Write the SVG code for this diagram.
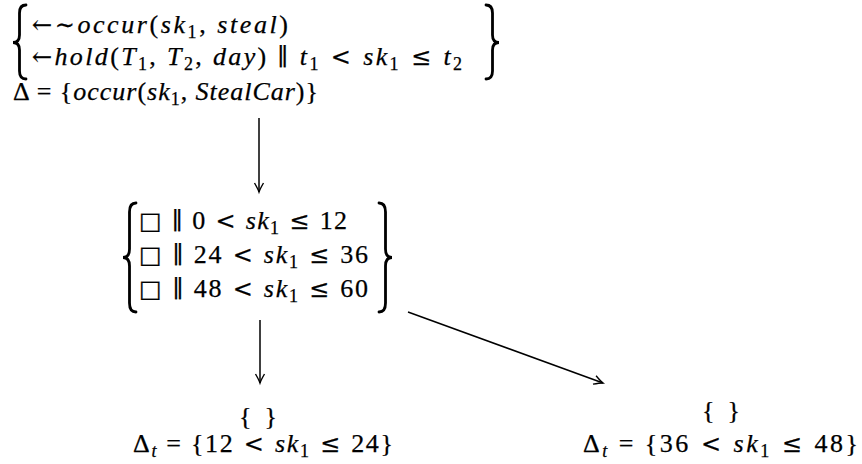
<svg xmlns="http://www.w3.org/2000/svg" width="862" height="464" viewBox="0 0 862 464">
<style>
.t { font-family: "Liberation Serif","DejaVu Serif",serif; font-size: 26px; fill: #000; stroke: #000; stroke-width: 0.25; }
.i { font-style: italic; }
.s { font-size: 18px; }
.y { font-family: "DejaVu Serif",serif; font-size: 24px; }
.br { fill: none; stroke: #000; stroke-width: 2.8; stroke-linecap: round; }
.edge { fill: none; stroke: #000; stroke-width: 1.5; }
</style>
<defs>
<marker id="ah" markerUnits="userSpaceOnUse" markerWidth="14" markerHeight="12" viewBox="-10 -6 12 12" refX="0" refY="0" orient="auto">
<path d="M-9,-4.5 Q-3,-1 0,0 Q-3,1 -9,4.5" fill="none" stroke="#000" stroke-width="1.4"/>
</marker>
</defs>
<rect width="862" height="464" fill="#fff"/>

<g id="n_top">
<path class="br" d="M26,5 Q19.5,5 19.5,13 L19.5,35 Q19.5,42.5 13,42.5 Q19.5,42.5 19.5,50 L19.5,71 Q19.5,79 26,79"/>
<path class="br" d="M486,5 Q492.5,5 492.5,13 L492.5,35 Q492.5,42.5 499,42.5 Q492.5,42.5 492.5,50 L492.5,71 Q492.5,79 486,79"/>
<text class="t" x="32" y="33" textLength="256" lengthAdjust="spacing"><tspan class="y">←∼</tspan><tspan class="i">occur</tspan>(<tspan class="i">sk</tspan><tspan class="s" dy="5">1</tspan><tspan dy="-5">, </tspan><tspan class="i">steal</tspan>)</text>
<text class="t" x="32" y="65" textLength="430" lengthAdjust="spacing"><tspan class="y">←</tspan><tspan class="i">hold</tspan>(<tspan class="i">T</tspan><tspan class="s" dy="5">1</tspan><tspan dy="-5">, </tspan><tspan class="i">T</tspan><tspan class="s" dy="5">2</tspan><tspan dy="-5">, </tspan><tspan class="i">day</tspan>) <tspan class="y">∥</tspan> <tspan class="i">t</tspan><tspan class="s" dy="5">1</tspan><tspan dy="-5" class="y"> &lt; </tspan><tspan class="i">sk</tspan><tspan class="s" dy="5">1</tspan><tspan dy="-5" class="y"> ≤ </tspan><tspan class="i">t</tspan><tspan class="s" dy="5">2</tspan></text>
<text class="t" x="13" y="100" textLength="305" lengthAdjust="spacing">Δ = {<tspan class="i">occur</tspan>(<tspan class="i">sk</tspan><tspan class="s" dy="5">1</tspan><tspan dy="-5">, </tspan><tspan class="i">StealCar</tspan>)}</text>
</g>

<g id="n_mid">
<path class="br" d="M136,203 Q129.5,203 129.5,212 L129.5,249 Q129.5,257.5 123,257.5 Q129.5,257.5 129.5,266 L129.5,303 Q129.5,312 136,312"/>
<path class="br" d="M379,203 Q385.5,203 385.5,212 L385.5,249 Q385.5,257.5 392,257.5 Q385.5,257.5 385.5,266 L385.5,303 Q385.5,312 379,312"/>
<text class="t" x="139" y="229" textLength="208" lengthAdjust="spacing"><tspan class="y">□ ∥</tspan> 0<tspan class="y"> &lt; </tspan><tspan class="i">sk</tspan><tspan class="s" dy="5">1</tspan><tspan dy="-5" class="y"> ≤ </tspan><tspan>12</tspan></text>
<text class="t" x="139" y="263" textLength="229" lengthAdjust="spacing"><tspan class="y">□ ∥</tspan> 24<tspan class="y"> &lt; </tspan><tspan class="i">sk</tspan><tspan class="s" dy="5">1</tspan><tspan dy="-5" class="y"> ≤ </tspan><tspan>36</tspan></text>
<text class="t" x="139" y="297" textLength="229" lengthAdjust="spacing"><tspan class="y">□ ∥</tspan> 48<tspan class="y"> &lt; </tspan><tspan class="i">sk</tspan><tspan class="s" dy="5">1</tspan><tspan dy="-5" class="y"> ≤ </tspan><tspan>60</tspan></text>
</g>

<g id="n_left">
<text class="t" x="258" y="425" text-anchor="middle" textLength="38" lengthAdjust="spacing">{ }</text>
<text class="t" x="133" y="452" textLength="260" lengthAdjust="spacing">Δ<tspan class="s i" dy="5">t</tspan><tspan dy="-5"> = {12</tspan><tspan class="y"> &lt; </tspan><tspan class="i">sk</tspan><tspan class="s" dy="5">1</tspan><tspan dy="-5" class="y"> ≤ </tspan><tspan>24}</tspan></text>
</g>

<g id="n_right">
<text class="t" x="721" y="419" text-anchor="middle" textLength="38" lengthAdjust="spacing">{ }</text>
<text class="t" x="583" y="452" textLength="275" lengthAdjust="spacing">Δ<tspan class="s i" dy="5">t</tspan><tspan dy="-5"> = {36</tspan><tspan class="y"> &lt; </tspan><tspan class="i">sk</tspan><tspan class="s" dy="5">1</tspan><tspan dy="-5" class="y"> ≤ </tspan><tspan>48}</tspan></text>
</g>

<g id="edges">
<line class="edge" x1="259" y1="118" x2="259" y2="192" marker-end="url(#ah)"/>
<line class="edge" x1="260" y1="320" x2="260" y2="383" marker-end="url(#ah)"/>
<line class="edge" x1="408" y1="312" x2="603" y2="383" marker-end="url(#ah)"/>
</g>
</svg>
